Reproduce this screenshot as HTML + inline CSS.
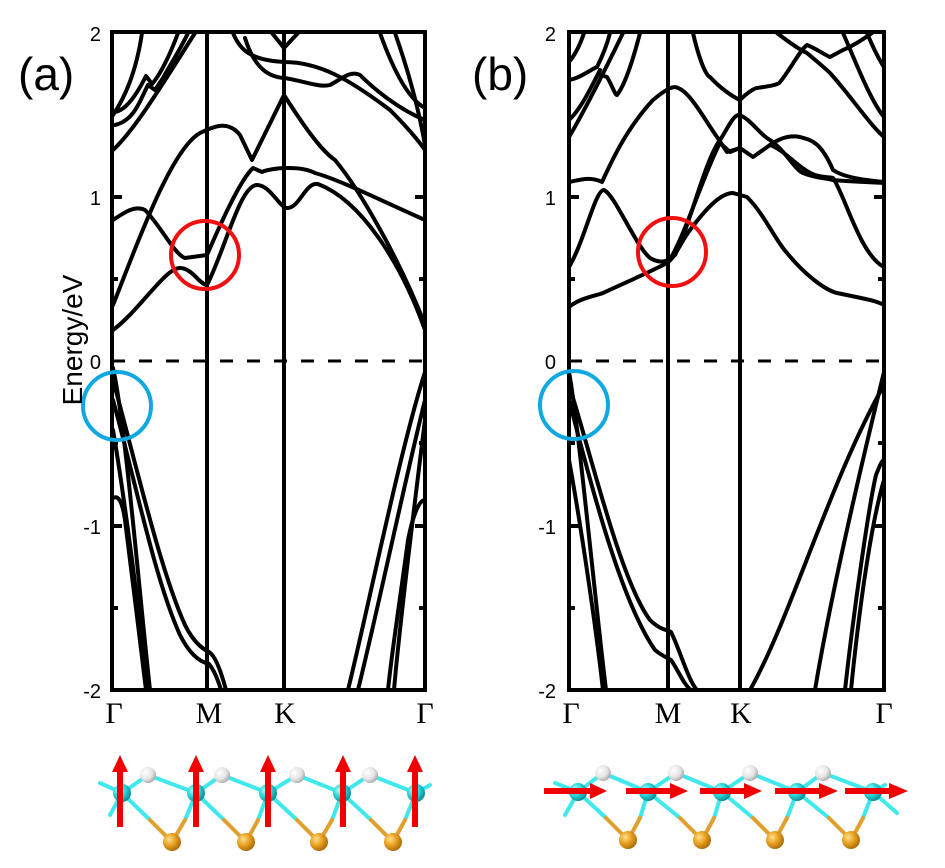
<!DOCTYPE html>
<html><head><meta charset="utf-8"><style>
html,body{margin:0;padding:0;background:#fff;}
svg{display:block;}
text{font-family:"Liberation Sans",sans-serif;}
text.sym{font-family:"Liberation Serif",serif;}
</style></head><body>
<svg width="945" height="868" viewBox="0 0 945 868" xmlns="http://www.w3.org/2000/svg">
<defs>
<radialGradient id="cy" cx="0.35" cy="0.35" r="0.7"><stop offset="0" stop-color="#b0ffff"/><stop offset="0.5" stop-color="#2ad4d8"/><stop offset="1" stop-color="#0a8a90"/></radialGradient>
<radialGradient id="au" cx="0.35" cy="0.35" r="0.7"><stop offset="0" stop-color="#ffe08a"/><stop offset="0.5" stop-color="#e8a020"/><stop offset="1" stop-color="#a86a08"/></radialGradient>
<radialGradient id="wh" cx="0.35" cy="0.35" r="0.7"><stop offset="0" stop-color="#ffffff"/><stop offset="0.6" stop-color="#e4e4e4"/><stop offset="1" stop-color="#a8a8a8"/></radialGradient>
</defs>

<!-- ===== Panel (a) ===== -->
<g fill="none" stroke="#000" stroke-width="4" stroke-linecap="round" stroke-linejoin="round">
<path d="M113,330 C140,310 165,268 180,268 C192,268 200,285 207,285 C225,250 240,185 257,185 C270,185 280,208 287,208 C300,208 305,182 318,184 C360,200 400,260 425,330"/>
<path d="M113,305 C135,250 170,150 200,133 C215,126 228,120 240,135 L252,160 L284,95 C300,120 320,150 335,160 C360,190 400,260 425,325"/>
<path d="M113,220 C125,212 135,205 145,210 C160,225 175,255 185,258 L207,255 C220,225 240,180 253,168 L262,172 C270,168 300,165 315,173 C340,180 380,200 425,220"/>
<path d="M113,150 C135,130 165,80 195,33"/>
<path d="M113,115 C130,90 138,60 142,33"/>
<path d="M115,125 C135,120 140,100 148,85 L155,90 L163,78 C170,65 180,50 188,33"/>
<path d="M115,112 C128,110 140,88 146,76 L152,84 C160,75 170,55 178,33"/>
<path d="M233,33 C240,50 250,60 284,62 C320,62 350,80 390,110 C405,125 418,140 425,150"/>
<path d="M245,38 C255,70 270,77 284,78 C300,80 320,88 330,85 C340,80 350,70 360,75 C375,90 400,110 425,120"/>
<path d="M272,33 L284,48 L298,33"/>
<path d="M380,33 C395,75 410,100 425,108"/>
<path d="M395,33 C408,70 418,105 425,145"/>
<path d="M113,368 C125,420 140,600 150,690"/>
<path d="M113,430 C125,500 140,620 148,690"/>
<path d="M113,498 C118,495 122,500 125,520 C130,560 140,640 146,690"/>
<path d="M113,380 C135,460 160,570 185,625 C195,645 205,650 209,652 C216,656 222,675 226,690"/>
<path d="M113,400 C135,480 155,580 180,635 C190,655 200,662 209,664 C214,670 218,680 221,690"/>
<path d="M425,372 C400,450 370,600 348,690"/>
<path d="M425,400 C405,480 380,600 358,690"/>
<path d="M425,500 C418,500 412,520 408,540 C400,600 392,650 388,690"/>
<path d="M425,420 C415,500 400,620 394,690"/>
</g>
<g stroke="#000" stroke-width="4" fill="none">
<rect x="112" y="32" width="313" height="658"/>
<line x1="207" y1="32" x2="207" y2="690"/>
<line x1="284" y1="32" x2="284" y2="690"/>
<line x1="112" y1="361" x2="425" y2="361" stroke-dasharray="13,14" stroke-width="3"/>
<path d="M112,197 h10 M112,279 h6 M112,443 h6 M112,526 h10 M112,608 h6 M425,197 h-10 M425,279 h-6 M425,443 h-6 M425,526 h-10 M425,608 h-6"/>
</g>
<g fill="none" stroke-width="4">
<circle cx="205" cy="255" r="34" stroke="#f01010"/>
<circle cx="117" cy="406" r="34" stroke="#10a8e0"/>
</g>
<text x="18" y="90" font-size="46">(a)</text>
<g font-size="20" text-anchor="end">
<text x="101" y="41">2</text><text x="101" y="205">1</text><text x="101" y="369">0</text><text x="101" y="534">-1</text><text x="101" y="698">-2</text>
</g>
<text transform="translate(82,340) rotate(-90)" font-size="28" text-anchor="middle">Energy/eV</text>
<g font-size="30" text-anchor="middle">
<text class="sym" x="114" y="723">Γ</text><text class="sym" x="209" y="723">M</text><text class="sym" x="285" y="723">K</text><text class="sym" x="425" y="723">Γ</text>
</g>

<!-- ===== Panel (b) ===== -->
<g fill="none" stroke="#000" stroke-width="4" stroke-linecap="round" stroke-linejoin="round">
<path d="M569,307 C580,298 595,296 603,293 C620,285 650,272 667,263 C675,258 682,240 690,230 C705,210 720,193 733,193 L747,197 C765,215 775,240 787,253 C805,275 825,290 837,293 C860,298 875,300 884,305"/>
<path d="M569,267 C585,240 595,190 604,190 C615,195 635,245 650,258 C660,264 668,262 675,255 C690,225 705,160 720,140 C728,128 733,115 739,115 C750,118 760,135 770,140 C785,150 795,170 803,173 C815,178 825,178 833,180 C855,182 870,182 884,183"/>
<path d="M667,263 C680,250 705,170 720,143 L730,152 L740,148 L753,157 L770,145 C785,150 800,170 815,175 C825,178 830,177 833,178 C845,195 860,255 884,267"/>
<path d="M569,182 C580,180 590,176 602,182 C610,165 625,130 653,100 C665,90 673,85 678,88 C690,92 705,120 717,137 L727,152 L740,148"/>
<path d="M770,145 C780,138 790,135 800,137 C810,140 820,140 833,170 C845,178 865,180 884,182"/>
<path d="M693,33 C698,55 705,75 710,77 C720,88 733,97 740,100 C748,92 755,88 757,88 C770,86 778,85 780,82 C790,70 800,50 807,45 C815,48 825,55 830,57 L843,50 C855,45 865,38 872,33"/>
<path d="M777,33 C790,43 800,50 807,53 C815,60 825,68 830,73 C850,95 870,125 884,137"/>
<path d="M843,33 C855,60 870,100 884,117"/>
<path d="M867,33 C872,45 878,58 884,67"/>
<path d="M569,137 C585,110 605,70 623,33"/>
<path d="M569,80 C580,78 590,70 597,67 C603,55 607,45 610,33"/>
<path d="M601,75 L607,77 C612,85 615,95 617,95 C625,85 633,60 640,33"/>
<path d="M569,120 C580,110 590,90 600,70"/>
<path d="M569,62 C575,55 580,45 584,33"/>
<path d="M569,372 C578,420 595,600 606,690"/>
<path d="M569,460 C580,520 595,620 603,690"/>
<path d="M569,385 C590,450 620,580 650,620 C660,630 668,630 671,632 C680,650 688,680 697,690"/>
<path d="M569,400 C590,480 620,600 655,650 C662,656 668,658 671,660 C678,670 684,685 691,690"/>
<path d="M750,690 C790,620 830,480 884,385"/>
<path d="M815,690 C830,600 860,470 884,372"/>
<path d="M845,690 C855,600 870,500 876,475 C880,465 882,460 884,460"/>
<path d="M851,690 C860,600 872,520 884,480"/>
</g>
<g stroke="#000" stroke-width="4" fill="none">
<rect x="569" y="32" width="315" height="658"/>
<line x1="668" y1="32" x2="668" y2="690"/>
<line x1="740" y1="32" x2="740" y2="690"/>
<line x1="569" y1="361" x2="884" y2="361" stroke-dasharray="13,14" stroke-width="3"/>
<path d="M569,197 h10 M569,279 h6 M569,443 h6 M569,526 h10 M569,608 h6 M884,197 h-10 M884,279 h-6 M884,443 h-6 M884,526 h-10 M884,608 h-6"/>
</g>
<g fill="none" stroke-width="4">
<circle cx="672" cy="252" r="34" stroke="#f01010"/>
<circle cx="574" cy="405" r="34" stroke="#10a8e0"/>
</g>
<text x="472" y="90" font-size="46">(b)</text>
<g font-size="20" text-anchor="end">
<text x="556" y="41">2</text><text x="556" y="205">1</text><text x="556" y="369">0</text><text x="556" y="534">-1</text><text x="556" y="698">-2</text>
</g>
<g font-size="30" text-anchor="middle">
<text class="sym" x="571" y="723">Γ</text><text class="sym" x="668" y="723">M</text><text class="sym" x="741" y="723">K</text><text class="sym" x="884" y="723">Γ</text>
</g>

<!-- ===== Structure (a) ===== -->
<g stroke-linecap="round" fill="none">
<g stroke="#40e8ec" stroke-width="4">
<path d="M100,783 L122,793 L148,775 M122,793 L110,815 M122,793 L150,820 M196,793 L185,820 M148,775 L196,793 L222,775 M196,793 L224,820 M268,793 L258,820 M222,775 L268,793 L297,775 M268,793 L297,820 M342,793 L332,820 M297,775 L342,793 L370,775 M342,793 L371,820 M416,793 L405,820 M370,775 L416,793 L430,785"/>
</g>
<g stroke="#e0a030" stroke-width="4">
<path d="M150,820 L172,842 L185,820 M224,820 L246,842 L258,820 M297,820 L319,842 L332,820 M371,820 L393,842 L405,820"/>
</g>
</g>
<g fill="url(#cy)"><circle cx="122" cy="793" r="9"/><circle cx="196" cy="793" r="9"/><circle cx="268" cy="793" r="9"/><circle cx="342" cy="793" r="9"/><circle cx="416" cy="793" r="9"/></g>
<g fill="url(#wh)"><circle cx="148" cy="775" r="8"/><circle cx="222" cy="775" r="8"/><circle cx="297" cy="775" r="8"/><circle cx="370" cy="775" r="8"/></g>
<g fill="url(#au)"><circle cx="172" cy="842" r="9"/><circle cx="246" cy="842" r="9"/><circle cx="319" cy="842" r="9"/><circle cx="393" cy="842" r="9"/></g>
<g fill="#f00000">
<rect x="117" y="770" width="6" height="57"/><polygon points="112,772 120,755 128,772"/>
<rect x="193" y="770" width="6" height="57"/><polygon points="188,772 196,755 204,772"/>
<rect x="265" y="770" width="6" height="57"/><polygon points="260,772 268,755 276,772"/>
<rect x="340" y="770" width="6" height="57"/><polygon points="335,772 343,755 351,772"/>
<rect x="412" y="770" width="6" height="57"/><polygon points="407,772 415,755 423,772"/>
</g>

<!-- ===== Structure (b) ===== -->
<g stroke-linecap="round" fill="none">
<g stroke="#40e8ec" stroke-width="4">
<path d="M555,783 L578,792 L603,773 M578,792 L565,815 M578,792 L606,818 M648,792 L640,818 M603,773 L648,792 L676,773 M648,792 L680,818 M722,792 L714,818 M676,773 L722,792 L750,773 M722,792 L753,818 M797,792 L787,818 M750,773 L797,792 L823,773 M797,792 L829,818 M873,792 L863,818 M823,773 L873,792 L885,785 M873,792 L897,813"/>
</g>
<g stroke="#e0a030" stroke-width="4">
<path d="M606,818 L628,840 L640,818 M680,818 L702,840 L714,818 M753,818 L775,840 L787,818 M829,818 L851,840 L863,818"/>
</g>
</g>
<g fill="url(#cy)"><circle cx="578" cy="792" r="9"/><circle cx="648" cy="792" r="9"/><circle cx="722" cy="792" r="9"/><circle cx="797" cy="792" r="9"/><circle cx="873" cy="792" r="9"/></g>
<g fill="url(#wh)"><circle cx="603" cy="773" r="8"/><circle cx="676" cy="773" r="8"/><circle cx="750" cy="773" r="8"/><circle cx="823" cy="773" r="8"/></g>
<g fill="url(#au)"><circle cx="628" cy="840" r="9"/><circle cx="702" cy="840" r="9"/><circle cx="775" cy="840" r="9"/><circle cx="851" cy="840" r="9"/></g>
<g fill="#f00000">
<rect x="544" y="788" width="48" height="6"/><polygon points="590,783 607,791 590,799"/>
<rect x="626" y="788" width="46" height="6"/><polygon points="670,783 688,791 670,799"/>
<rect x="700" y="788" width="46" height="6"/><polygon points="744,783 762,791 744,799"/>
<rect x="775" y="788" width="46" height="6"/><polygon points="819,783 838,791 819,799"/>
<rect x="845" y="788" width="46" height="6"/><polygon points="889,783 908,791 889,799"/>
</g>
</svg>
</body></html>
